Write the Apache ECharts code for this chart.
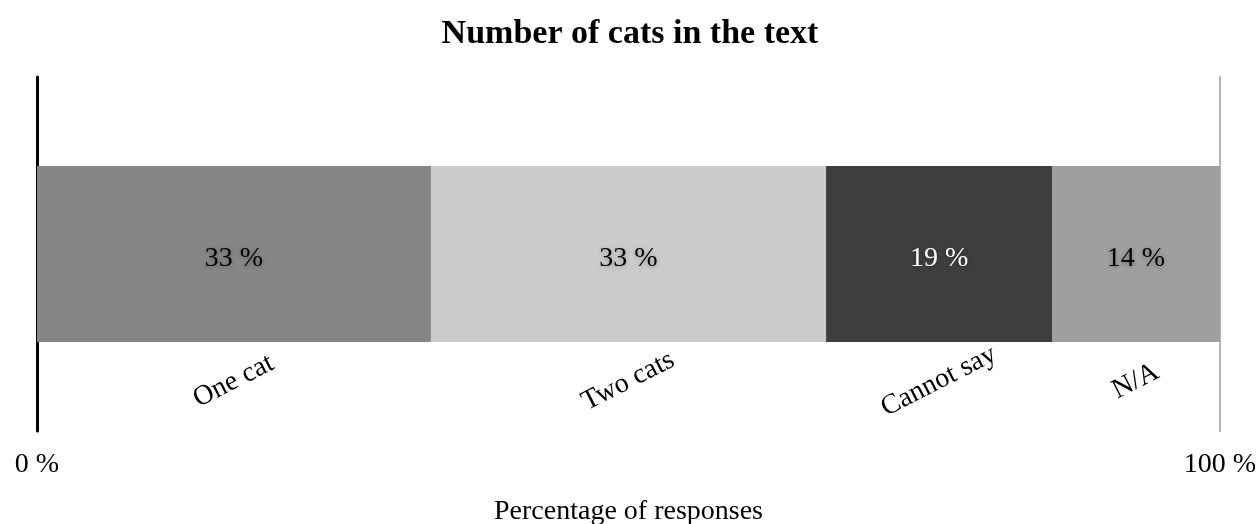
<!DOCTYPE html>
<html>
<head>
<meta charset="utf-8">
<script src="https://cdn.jsdelivr.net/npm/echarts@6/dist/echarts.min.js"></script>
<style>
  html, body { margin: 0; padding: 0; background: #ffffff; }
  #chart { width: 1260px; height: 524px; }
</style>
</head>
<body>
<div id="chart"></div>
<script>
// Response categories and their share of all responses (percent)
const categories = ['One cat', 'Two cats', 'Cannot say', 'N/A'];
const shares = [33.3, 33.4, 19.1, 14.2];
const segmentColors = ['#858685', '#cacbca', '#3d3e3d', '#9e9f9e'];
const valueLabelColors = ['#000000', '#000000', '#ffffff', '#000000'];
// Rows of the category axis: spacer, the stacked bar, the row carrying the category names
const rows = ['spacer', 'bar', 'names'];
const xTicks = [0, 100];

const FONT = '"Liberation Serif", "Times New Roman", serif';

const chart = echarts.init(document.getElementById('chart'), null, { renderer: 'canvas' });

const series = categories.map((name, i) => ({
  type: 'bar',
  name: name,
  stack: 'total',
  barWidth: 176,
  yAxisIndex: 0,
  itemStyle: { color: segmentColors[i] },
  label: {
    show: true,
    position: 'inside',
    offset: [0, 5],
    formatter: p => Math.round(p.value) + ' %',
    fontFamily: FONT,
    fontSize: 28,
    color: valueLabelColors[i],
    textShadowColor: 'rgba(0,0,0,0.3)',
    textShadowBlur: 4,
    textShadowOffsetY: 1
  },
  data: [
    null,
    shares[i],
    {
      value: shares[i],
      itemStyle: { color: 'rgba(0,0,0,0)' },
      label: {
        show: true,
        position: 'inside',
        rotate: 27,
        // offset is applied in the rotated frame; this moves the name straight down
        offset: [-11, 21],
        formatter: name,
        fontFamily: FONT,
        fontSize: 28,
        color: '#000000',
        textShadowBlur: 0,
        textShadowOffsetY: 0,
        textShadowColor: 'transparent'
      }
    }
  ]
}));

chart.setOption({
  animation: false,
  backgroundColor: '#ffffff',
  title: {
    text: 'Number of cats in the text',
    left: 'center',
    top: 12,
    textStyle: {
      fontFamily: FONT,
      fontWeight: 'bold',
      fontSize: 34,
      color: '#000000'
    }
  },
  grid: {
    left: 37, right: 40, top: 77, bottom: 93,
    containLabel: false,
    outerBoundsMode: 'none'
  },
  xAxis: {
    type: 'value',
    min: xTicks[0],
    max: xTicks[xTicks.length - 1],
    interval: xTicks[1] - xTicks[0],
    axisLine: { show: false },
    axisTick: { show: false },
    splitLine: { show: false },
    axisLabel: {
      formatter: '{value} %',
      fontFamily: FONT,
      fontSize: 28,
      color: '#000000',
      margin: 20
    },
    name: 'Percentage of responses',
    nameLocation: 'middle',
    nameGap: 67,
    nameTextStyle: {
      fontFamily: FONT,
      fontSize: 28,
      color: '#000000'
    }
  },
  yAxis: [
    {
      type: 'category',
      data: rows,
      inverse: true,
      axisLine: { show: true, lineStyle: { color: '#000000', width: 3 } },
      axisTick: { show: false },
      axisLabel: { show: false },
      splitLine: { show: false }
    },
    {
      type: 'category',
      data: rows,
      inverse: true,
      position: 'right',
      axisLine: { show: true, lineStyle: { color: '#b3b3b3', width: 2 } },
      axisTick: { show: false },
      axisLabel: { show: false },
      splitLine: { show: false }
    }
  ],
  series: series
});
</script>
</body>
</html>
